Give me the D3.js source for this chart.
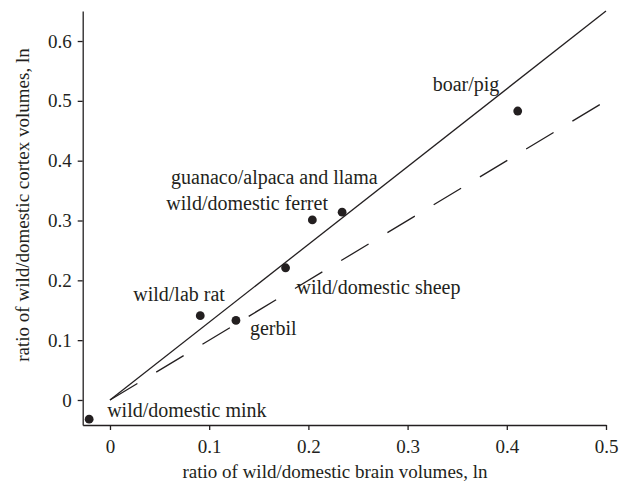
<!DOCTYPE html>
<html>
<head>
<meta charset="utf-8">
<script src="https://cdn.jsdelivr.net/npm/d3@7"></script>
<style>
html,body{margin:0;padding:0;background:#fff;}
svg{display:block;}
text{font-family:"Liberation Serif","Times New Roman",serif;fill:#231f20;}
</style>
</head>
<body>
<svg id="chart" width="626" height="488"></svg>
<script>
// data
const species = ["wild/domestic mink","wild/lab rat","gerbil","wild/domestic sheep","wild/domestic ferret","guanaco/alpaca and llama","boar/pig"];
const brainRatio = [-0.021, 0.091, 0.127, 0.177, 0.204, 0.234, 0.411];
const cortexRatio = [-0.032, 0.141, 0.133, 0.221, 0.301, 0.314, 0.483];
const xTicks = [0, 0.1, 0.2, 0.3, 0.4, 0.5];
const yTicks = [0, 0.1, 0.2, 0.3, 0.4, 0.5, 0.6];
const solidLineX = [0, 0.5];   // slope 1.3
const solidSlope = 1.3;
const dashedLineX = [0, 0.5];  // slope 1
const dashedSlope = 1.0;
// label anchor offsets (px) relative to point
const labelDx = [18, -67, 14, 11, -146, -171, -85];
const labelDy = [-2, -15, 15, 26, -10, -28, -20];

const svg = d3.select("#chart");
const ink = "#231f20";
const x = d3.scaleLinear().domain([-0.0275, 0.5]).range([82.7, 606]);
const y = d3.scaleLinear().domain([-0.0418, 0.65]).range([425, 11.1]);
const fmt = d => d === 0 ? "0" : d3.format(".1f")(d);

const gx = svg.append("g").attr("transform", "translate(0,425)")
  .call(d3.axisBottom(x).tickValues(xTicks).tickFormat(fmt).tickSize(5).tickSizeOuter(0).tickPadding(6));
const gy = svg.append("g").attr("transform", "translate(82.7,0)")
  .call(d3.axisLeft(y).tickValues(yTicks).tickFormat(fmt).tickSize(5).tickSizeOuter(0).tickPadding(6));
[gx, gy].forEach(g => {
  g.selectAll("path,line").attr("stroke", ink).attr("stroke-width", 1.3);
  g.selectAll("text").attr("font-size", 19).attr("font-family", "Liberation Serif").attr("fill", ink);
});
gx.selectAll("text").attr("dy", "0.9em");

// lines
svg.append("line")
  .attr("x1", x(solidLineX[0])).attr("y1", y(solidLineX[0]*solidSlope))
  .attr("x2", x(solidLineX[1])).attr("y2", y(solidLineX[1]*solidSlope))
  .attr("stroke", ink).attr("stroke-width", 1.3);
svg.append("line")
  .attr("x1", x(dashedLineX[0])).attr("y1", y(dashedLineX[0]*dashedSlope))
  .attr("x2", x(dashedLineX[1])).attr("y2", y(dashedLineX[1]*dashedSlope))
  .attr("stroke", ink).attr("stroke-width", 1.3).attr("stroke-dasharray", "32,22");

// points
svg.append("g").selectAll("circle").data(species).join("circle")
  .attr("cx", (d,i) => x(brainRatio[i])).attr("cy", (d,i) => y(cortexRatio[i]))
  .attr("r", 4.4).attr("fill", ink);

// labels
svg.append("g").selectAll("text").data(species).join("text")
  .attr("x", (d,i) => x(brainRatio[i]) + labelDx[i])
  .attr("y", (d,i) => y(cortexRatio[i]) + labelDy[i])
  .attr("font-size", 20).text(d => d);

// axis titles
svg.append("text").attr("x", 335).attr("y", 478).attr("text-anchor", "middle")
  .attr("font-size", 19).text("ratio of wild/domestic brain volumes, ln");
svg.append("text").attr("transform", "translate(29,205) rotate(-90)").attr("text-anchor", "middle")
  .attr("font-size", 19).text("ratio of wild/domestic cortex volumes, ln");
</script>
</body>
</html>
